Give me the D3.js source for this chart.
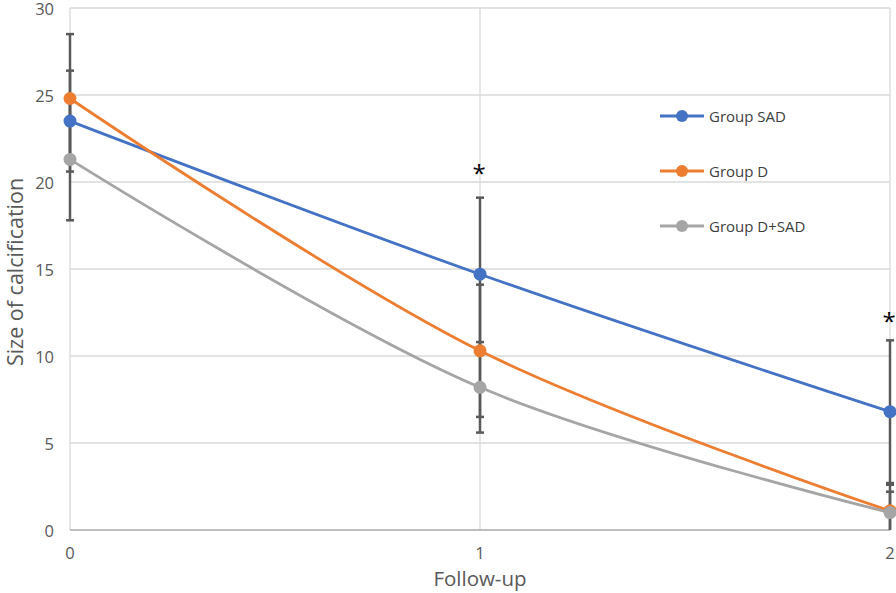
<!DOCTYPE html>
<html>
<head>
<meta charset="utf-8">
<script src="https://d3js.org/d3.v7.min.js"></script>
<style>
  body { margin: 0; background: #fff; }
  text { font-family: "Open Sans", "Noto Sans", sans-serif; }
</style>
</head>
<body>
<svg id="chart" width="896" height="593"></svg>
<script>
// follow-up points
var followUp = [0, 1, 2];
var groupNames = ["Group SAD", "Group D", "Group D+SAD"];
var colors = ["#4472c4", "#ed7d31", "#a5a5a5"];
// mean size of calcification per group
var sadValues = [23.5, 14.7, 6.8];
var dValues = [24.8, 10.3, 1.1];
var dsadValues = [21.3, 8.2, 1.0];
// error (+/-) per group
var sadErr = [2.9, 4.4, 4.1];
var dErr = [3.7, 3.8, 1.1];
var dsadErr = [3.5, 2.6, 1.6];
// significance marks
var starPoints = [1, 2];
var starValues = [20.8, 12.3];
var yTicks = [0, 5, 10, 15, 20, 25, 30];

var series = [
  {name: groupNames[0], color: colors[0], values: sadValues, err: sadErr},
  {name: groupNames[1], color: colors[1], values: dValues, err: dErr},
  {name: groupNames[2], color: colors[2], values: dsadValues, err: dsadErr}
];

var svg = d3.select("#chart");
var x = d3.scaleLinear().domain([0, 2]).range([70, 890]);
var y = d3.scaleLinear().domain([0, 30]).range([530, 8]);

// gridlines
svg.append("g").selectAll("line").data(yTicks.slice(1)).join("line")
  .attr("x1", x(0)).attr("x2", x(2))
  .attr("y1", d => y(d)).attr("y2", d => y(d))
  .attr("stroke", "#d9d9d9").attr("stroke-width", 1.3);
svg.append("g").selectAll("line").data(followUp).join("line")
  .attr("x1", d => x(d)).attr("x2", d => x(d))
  .attr("y1", y(30)).attr("y2", y(0))
  .attr("stroke", "#d9d9d9").attr("stroke-width", 1.3);
svg.append("line")
  .attr("x1", x(0)).attr("x2", x(2)).attr("y1", y(0)).attr("y2", y(0))
  .attr("stroke", "#bfbfbf").attr("stroke-width", 2);

// tick labels
svg.append("g").selectAll("text").data(yTicks).join("text")
  .attr("x", 54).attr("y", d => y(d) + 1).attr("dy", "0.35em")
  .attr("text-anchor", "end").attr("font-size", 16.5).attr("fill", "#595959")
  .text(d => d);
svg.append("g").selectAll("text").data(followUp).join("text")
  .attr("x", d => x(d)).attr("y", 559)
  .attr("text-anchor", "middle").attr("font-size", 16.5).attr("fill", "#595959")
  .text(d => d);

// axis titles
svg.append("text")
  .attr("transform", "translate(23,272) rotate(-90)")
  .attr("text-anchor", "middle").attr("font-size", 21.5).attr("fill", "#595959")
  .text("Size of calcification");
svg.append("text")
  .attr("x", x(1)).attr("y", 586)
  .attr("text-anchor", "middle").attr("font-size", 20.5).attr("fill", "#595959")
  .text("Follow-up");

// error bars
var eg = svg.append("g");
series.forEach(function(s) {
  s.values.forEach(function(v, i) {
    var lo = Math.max(0, v - s.err[i]), hi = v + s.err[i];
    var cx = x(followUp[i]);
    eg.append("line").attr("x1", cx).attr("x2", cx)
      .attr("y1", y(lo)).attr("y2", y(hi))
      .attr("stroke", "#595959").attr("stroke-width", 2.5);
    [lo, hi].forEach(function(b) {
      if (b <= 0) return;
      eg.append("line").attr("x1", cx - 4).attr("x2", cx + 4)
        .attr("y1", y(b)).attr("y2", y(b))
        .attr("stroke", "#595959").attr("stroke-width", 2.5);
    });
  });
});

// lines and markers
var line = d3.line()
  .x((d, i) => x(followUp[i]))
  .y(d => y(d))
  .curve(d3.curveCatmullRom.alpha(0.5));
series.forEach(function(s) {
  svg.append("path").datum(s.values)
    .attr("d", line).attr("fill", "none")
    .attr("stroke", s.color).attr("stroke-width", 2.8);
  svg.append("g").selectAll("circle").data(s.values).join("circle")
    .attr("cx", (d, i) => x(followUp[i])).attr("cy", d => y(d))
    .attr("r", 6.5).attr("fill", s.color);
});

// significance stars
svg.append("g").selectAll("text").data(starPoints).join("text")
  .attr("x", (d, i) => x(d) - 1).attr("y", (d, i) => y(starValues[i]) + 14)
  .attr("text-anchor", "middle").attr("font-size", 24).attr("fill", "#000")
  .text("*");

// legend
var leg = svg.append("g");
series.forEach(function(s, i) {
  var ly = 116 + i * 55;
  leg.append("line").attr("x1", 660).attr("x2", 704)
    .attr("y1", ly).attr("y2", ly)
    .attr("stroke", s.color).attr("stroke-width", 2.8);
  leg.append("circle").attr("cx", 682).attr("cy", ly).attr("r", 6).attr("fill", s.color);
  leg.append("text").attr("x", 709).attr("y", ly + 6)
    .attr("font-size", 15).attr("fill", "#404040").text(s.name);
});
</script>
</body>
</html>
